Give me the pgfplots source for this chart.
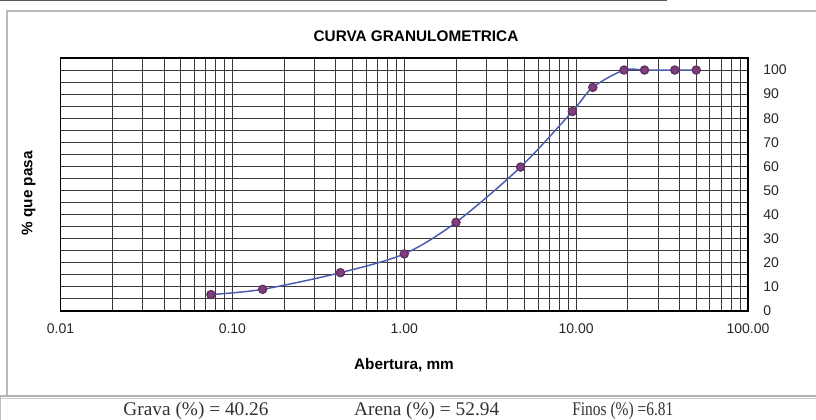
\documentclass[border=0pt]{standalone}
\usepackage{pgfplots}
\pgfplotsset{compat=1.18}
\usepackage{fontspec}
\setmainfont{Liberation Serif}
\setsansfont{Liberation Sans}
\definecolor{gridc}{HTML}{3A3A3A}
\definecolor{linec}{HTML}{4A5BB0}
\definecolor{markc}{HTML}{7E3F7E}
\begin{document}
\begin{tikzpicture}
\path[use as bounding box] (0,0) rectangle (612pt,315pt);
\begin{scope}
\clip (0,0) rectangle (612pt,315pt);
% top line of previous table
\draw[gray!70!black, line width=1pt] (0pt,314.5pt) -- (500pt,314.5pt);
% chart frame
\draw[gray!55, line width=1.2pt] (5.25pt,18pt) -- (5.25pt,306.75pt) -- (620pt,306.75pt);
% bottom separating line
\draw[gray!60, line width=2pt] (0pt,18pt) -- (620pt,18pt);
\draw[gray!40, line width=0.6pt] (0pt,16.5pt) -- (620pt,16.5pt);
\draw[gray!50, line width=0.8pt] (0.4pt,0pt) -- (0.4pt,17pt);
\end{scope}
\begin{axis}[
  at={(45.4pt,81.75pt)}, anchor=south west,
  scale only axis, width=515.6pt, height=189.75pt,
  xmode=log, xmin=0.01, xmax=100,
  ymin=0, ymax=105,
  xtick={0.01,0.1,1,10,100},
  xticklabels={0.01,0.10,1.00,10.00,100.00},
  ytick={0,10,20,30,40,50,60,70,80,90,100},
  yticklabels={0,10,20,30,40,50,60,70,80,90,100},
  minor ytick={5,15,25,35,45,55,65,75,85,95,105},
  yticklabel pos=right,
  grid=both,
  major grid style={gridc, line width=0.75pt},
  minor grid style={gridc, line width=0.75pt},
  axis line style={black, line width=1pt},
  major tick length=0pt, minor tick length=0pt,
  ticklabel style={font=\sffamily\fontsize{10.5}{12}\selectfont, text=black!85},
  xticklabel style={yshift=-6pt},
  yticklabel style={xshift=8pt, anchor=west},
  clip=false,
]
\addplot[linec, line width=1.1pt, smooth, mark=*, mark size=3pt,
  mark options={fill=markc, draw=markc!80!black}]
  coordinates {
  (0.075,6.81) (0.15,9.0) (0.425,15.9) (1.0,23.7) (2.0,36.8)
  (4.75,59.74) (9.5,82.8) (12.5,92.8) (19,100) (25,100) (37.5,100) (50,100)
  };
\end{axis}
\node[font=\sffamily\bfseries\fontsize{11.5}{13}\selectfont] at (312pt,288pt) {CURVA GRANULOMETRICA};
\node[font=\sffamily\bfseries\fontsize{11.5}{13}\selectfont, rotate=90] at (21.4pt,170pt) {\% que pasa};
\node[font=\sffamily\bfseries\fontsize{11.5}{13}\selectfont] at (303pt,41.25pt) {Abertura, mm};
\node[font=\fontsize{14.5}{17}\selectfont, text=black!80] at (147pt,6.5pt) {Grava (\%) = 40.26};
\node[font=\fontsize{14.5}{17}\selectfont, text=black!80] at (320pt,6.5pt) {Arena (\%) = 52.94};
\node[font=\fontsize{14.5}{17}\selectfont, text=black!80, anchor=west, inner sep=0pt] at (429pt,6.5pt) {\scalebox{0.8}[1]{Finos (\%) =6.81}};
\end{tikzpicture}
\end{document}
